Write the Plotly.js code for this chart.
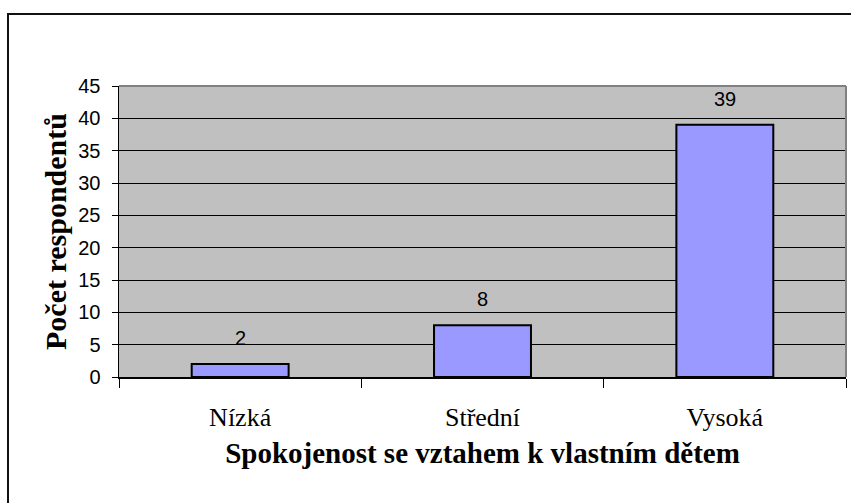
<!DOCTYPE html>
<html>
<head>
<meta charset="utf-8">
<script src="https://cdn.plot.ly/plotly-3.0.1.min.js"></script>
<style>
  html, body { margin: 0; padding: 0; background: #fff; overflow: hidden; }
  #wrap { position: relative; width: 851px; height: 503px; }
  #chart { width: 851px; height: 503px; }
  #frame { position: absolute; left: 7px; top: 13px; width: 1000px; height: 1000px;
           border-left: 2px solid #111; border-top: 2px solid #111; pointer-events: none; }
</style>
</head>
<body>
<div id="wrap">
  <div id="chart"></div>
  <div id="frame"></div>
</div>
<script>
const categories = ["Nízká", "Střední", "Vysoká"];
const values = [2, 8, 39];
const yTitle = "Počet respondentů";
const xTitle = "Spokojenost se vztahem k vlastním dětem";

const serif = "Liberation Serif, Times New Roman, serif";
const sans = "Liberation Sans, Arial, sans-serif";

const trace = {
  type: "bar",
  x: categories,
  y: values,
  marker: { color: "#9999FF", line: { color: "#000000", width: 2 } },
  hoverinfo: "none"
};

const annotations = categories.map((c, i) => ({
  x: c, y: values[i], xref: "x", yref: "y",
  text: String(values[i]), showarrow: false,
  yanchor: "bottom", yshift: 13,
  font: { family: sans, size: 20, color: "#000" }
}));

const layout = {
  width: 851, height: 503,
  margin: { l: 119, r: 5, t: 86, b: 126, pad: 0 },
  paper_bgcolor: "rgba(0,0,0,0)",
  plot_bgcolor: "#C0C0C0",
  showlegend: false,
  bargap: 0.6,
  xaxis: {
    type: "category",
    showgrid: false,
    showline: true, linecolor: "#000", linewidth: 1.5,
    ticks: "outside", ticklen: 9, tickcolor: "#000", tickwidth: 1,
    tickson: "boundaries",
    ticklabelstandoff: 16,
    tickfont: { family: serif, size: 26, color: "#000" },
    title: { text: xTitle, standoff: 12, font: { family: serif, size: 29, color: "#000", weight: "bold" } },
    automargin: false
  },
  yaxis: {
    range: [0, 45], dtick: 5, tick0: 0,
    showgrid: true, gridcolor: "#000", gridwidth: 1,
    zeroline: false,
    showline: true, linecolor: "#000", linewidth: 1.5,
    ticks: "outside", ticklen: 6, tickcolor: "#000", tickwidth: 1,
    ticklabelstandoff: 7,
    tickfont: { family: sans, size: 20, color: "#000" },
    title: { text: yTitle, standoff: 3, font: { family: serif, size: 30, color: "#000", weight: "bold" } },
    automargin: false
  },
  shapes: [
    { type: "line", xref: "paper", yref: "paper", x0: 0, x1: 1, y0: 1, y1: 1,
      line: { color: "#808080", width: 2 }, layer: "above" },
    { type: "line", xref: "paper", yref: "paper", x0: 1, x1: 1, y0: 0, y1: 1,
      line: { color: "#808080", width: 2 }, layer: "above" }
  ],
  annotations: annotations
};

Plotly.newPlot("chart", [trace], layout, { staticPlot: true, displayModeBar: false });
</script>
</body>
</html>
